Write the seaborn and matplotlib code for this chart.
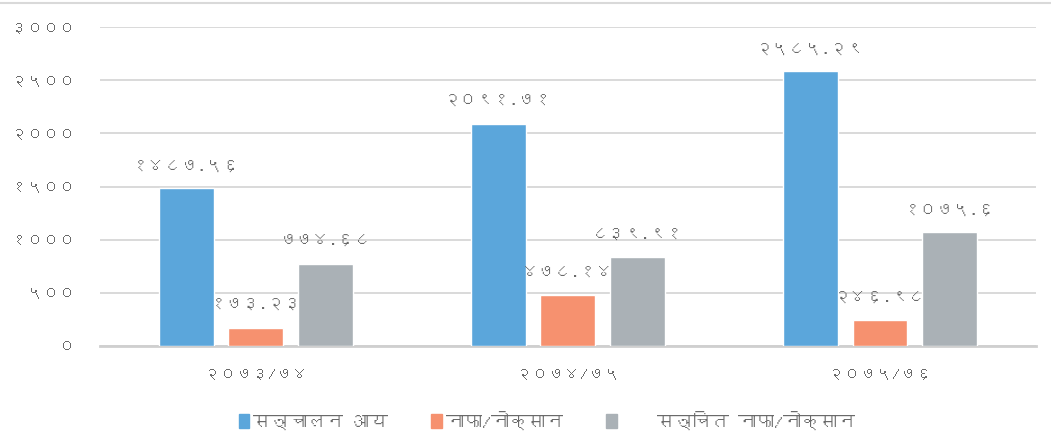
import pandas as pd
import numpy as np
import matplotlib.pyplot as plt
import seaborn as sns
from matplotlib import font_manager
from matplotlib.lines import Line2D
from matplotlib.patches import Patch

years = ['२०७३/७४', '२०७४/७५', '२०७५/७६']
series = ['सञ्चालन आय', 'नाफा/नोक्सान', 'सञ्चित नाफा/नोक्सान']
income = [1487.56, 2091.71, 2585.29]
profit = [173.23, 478.14, 246.98]
cum_profit = [774.68, 839.91, 1075.6]
value_labels = [
    ['१४८७.५६', '२०९१.७१', '२५८५.२९'],
    ['१७३.२३', '४७८.१४', '२४६.९८'],
    ['७७४.६८', '८३९.९१', '१०७५.६'],
]
yticks = [0, 500, 1000, 1500, 2000, 2500, 3000]
ytick_labels = ['०', '५००', '१०००', '१५००', '२०००', '२५००', '३०००']
colors = ['#5BA6DB', '#F6916F', '#AAB1B6']

df = pd.DataFrame({
    'year': years * 3,
    'series': [s for s in series for _ in years],
    'value': income + profit + cum_profit,
})


# find a font that actually has devanagari glyphs
def find_devanagari_font():
    try:
        from fontTools.ttLib import TTFont
    except ImportError:
        return None
    for f in font_manager.fontManager.ttflist:
        try:
            tt = TTFont(f.fname, fontNumber=0, lazy=True)
            if 0x0915 in tt.getBestCmap() and 0x0967 in tt.getBestCmap():
                return f.name
        except Exception:
            continue
    return None


sns.set_style("white")
deva = find_devanagari_font()
plt.rcParams['font.family'] = [deva, 'DejaVu Sans'] if deva else ['DejaVu Sans']
text_color = '#6a6a6a'

fig = plt.figure(figsize=(10.51, 4.48), dpi=100)
ax = fig.add_axes([0.0951, 0.2277, 0.8906, 0.712])

sns.barplot(data=df, x='year', y='value', hue='series', palette=colors,
            width=0.672, gap=0.214, saturation=1, ax=ax, legend=False, zorder=3)

for cont, labs in zip(ax.containers, value_labels):
    ax.bar_label(cont, labels=labs, padding=11, fontsize=12, color=text_color)

ax.set_ylim(0, 3000)
ax.set_xlim(-0.5, 2.5)
ax.set_yticks(yticks)
ax.set_yticklabels(ytick_labels)
ax.yaxis.grid(True, color='#d9d9d9', linewidth=1.4, zorder=0)
ax.set_axisbelow(True)
ax.tick_params(axis='y', length=0, pad=18, labelsize=11.5, labelcolor=text_color)
ax.tick_params(axis='x', length=0, pad=16, labelsize=11.5, labelcolor=text_color)
ax.set_xlabel('')
ax.set_ylabel('')
for s in ['top', 'right', 'left']:
    ax.spines[s].set_visible(False)
ax.spines['bottom'].set_color('#cfcfcf')
ax.spines['bottom'].set_linewidth(2)

handles = [Patch(color=c) for c in colors]
fig.legend(handles, ['सञ्चालन आय', 'नाफा/नोक्सान', '    सञ्चित नाफा/नोक्सान'],
           loc='center', bbox_to_anchor=(0.52, 0.062), ncol=3,
           frameon=False, fontsize=13, handlelength=0.6, handleheight=0.8,
           handletextpad=0.2, columnspacing=2.4, labelcolor=text_color)

# border line along the top of the picture
fig.add_artist(Line2D([0, 1], [0.993, 0.993], color='#d9d9d9', linewidth=1.5))

fig.savefig('out.png', dpi=100)
